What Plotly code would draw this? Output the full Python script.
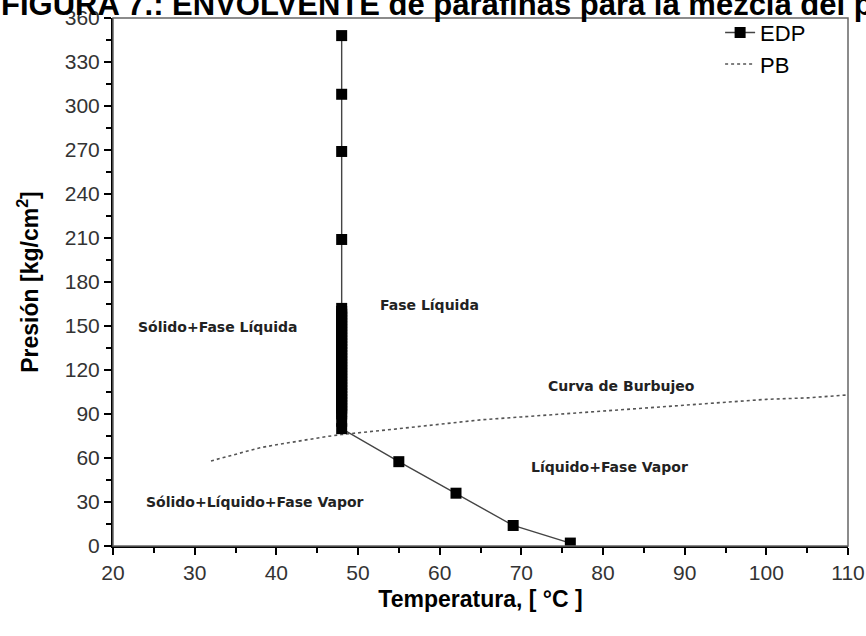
import plotly.graph_objects as go

# EDP (envolvente de depositación de parafinas)
edp_temp = [48, 48, 48, 48,
            48, 48, 48, 48, 48, 48, 48, 48, 48, 48, 48, 48, 48, 48, 48, 48, 48, 48, 48, 48, 48, 48,
            48, 48, 48, 48, 48, 48, 48, 48, 48, 48, 48, 48, 48, 48, 48, 48, 48,
            55, 62, 69, 76]
edp_pres = [348, 308, 269, 209,
            162, 160, 158, 156, 154, 152, 150, 148, 146, 144, 142, 140, 138, 136, 134, 132, 130, 128, 126, 124, 122, 120,
            118, 116, 114, 112, 110, 108, 106, 104, 102, 100, 98, 96, 94, 92, 90, 85, 80,
            57.5, 36, 14, 2]

# PB (curva de burbujeo)
pb_temp = [32, 34, 36, 38, 40, 42, 44, 46, 48, 50, 55, 60, 65, 70, 75, 80, 85, 90, 95, 100, 105, 110]
pb_pres = [58, 61, 64, 67, 69, 71, 73, 74.5, 76, 77, 80, 83, 86, 88, 90, 92, 94, 96, 98, 100, 101, 103]

region_labels = ["Sólido+Fase Líquida", "Fase Líquida", "Curva de Burbujeo",
                 "Líquido+Fase Vapor", "Sólido+Líquido+Fase Vapor"]
region_x = [32.9, 58.8, 82.3, 80.8, 37.4]
region_y = [149, 164, 109, 54, 30]

x_ticks = [20, 30, 40, 50, 60, 70, 80, 90, 100, 110]
y_ticks = [0, 30, 60, 90, 120, 150, 180, 210, 240, 270, 300, 330, 360]

fig = go.Figure()
fig.add_trace(go.Scatter(
    x=pb_temp, y=pb_pres, mode="lines", name="PB",
    line=dict(color="#555555", width=1.6, dash="dot"),
))
fig.add_trace(go.Scatter(
    x=edp_temp, y=edp_pres, mode="lines+markers", name="EDP",
    line=dict(color="#444444", width=1.4),
    marker=dict(symbol="square", size=11, color="black", line=dict(width=0)),
))

for t, xx, yy in zip(region_labels, region_x, region_y):
    fig.add_annotation(x=xx, y=yy, text="<b>" + t + "</b>", showarrow=False,
                       font=dict(family="DejaVu Sans", size=14, color="#222222"),
                       xanchor="center", yanchor="middle")

fig.add_annotation(xref="paper", yref="paper", x=-0.155, y=1.026,
                   text="<b>FIGURA 7.: ENVOLVENTE de parafinas para la mezcla del p</b>",
                   showarrow=False, xanchor="left", yanchor="middle",
                   font=dict(family="Liberation Sans", size=31, color="black"))

fig.add_shape(type="rect", xref="paper", yref="paper", x0=0, y0=0, x1=1, y1=1,
              line=dict(color="#666666", width=1.5), layer="above")

axis_common = dict(
    showline=True, linecolor="black", linewidth=2, mirror=False,
    ticks="outside", ticklen=7, tickwidth=2, tickcolor="black",
    showgrid=False, zeroline=False, automargin=False,
    tickfont=dict(family="Liberation Sans", size=21, color="#333333"),
)

fig.update_xaxes(range=[20, 110], tickvals=x_ticks,
                 minor=dict(ticks="outside", ticklen=5, tickwidth=2, tickcolor="black", dtick=5),
                 title=dict(text="<b>Temperatura, [ °C ]</b>",
                            font=dict(family="Liberation Sans", size=23, color="black"), standoff=8),
                 **axis_common)
fig.update_yaxes(range=[0, 360], tickvals=y_ticks,
                 minor=dict(ticks="outside", ticklen=5, tickwidth=2, tickcolor="black", dtick=15),
                 title=dict(text="<b>Presión [kg/cm<sup>2</sup>]</b>",
                            font=dict(family="Liberation Sans", size=23, color="black"), standoff=20),
                 **axis_common)

fig.update_layout(
    width=866, height=636,
    margin=dict(l=113, r=18, t=14, b=90),
    plot_bgcolor="white", paper_bgcolor="white",
    showlegend=True,
    legend=dict(x=0.826, y=1.012, xanchor="left", yanchor="top",
                bgcolor="rgba(0,0,0,0)", traceorder="reversed",
                font=dict(family="Liberation Sans", size=22, color="black"),
                tracegroupgap=0),
)

fig.write_html("out.html")
